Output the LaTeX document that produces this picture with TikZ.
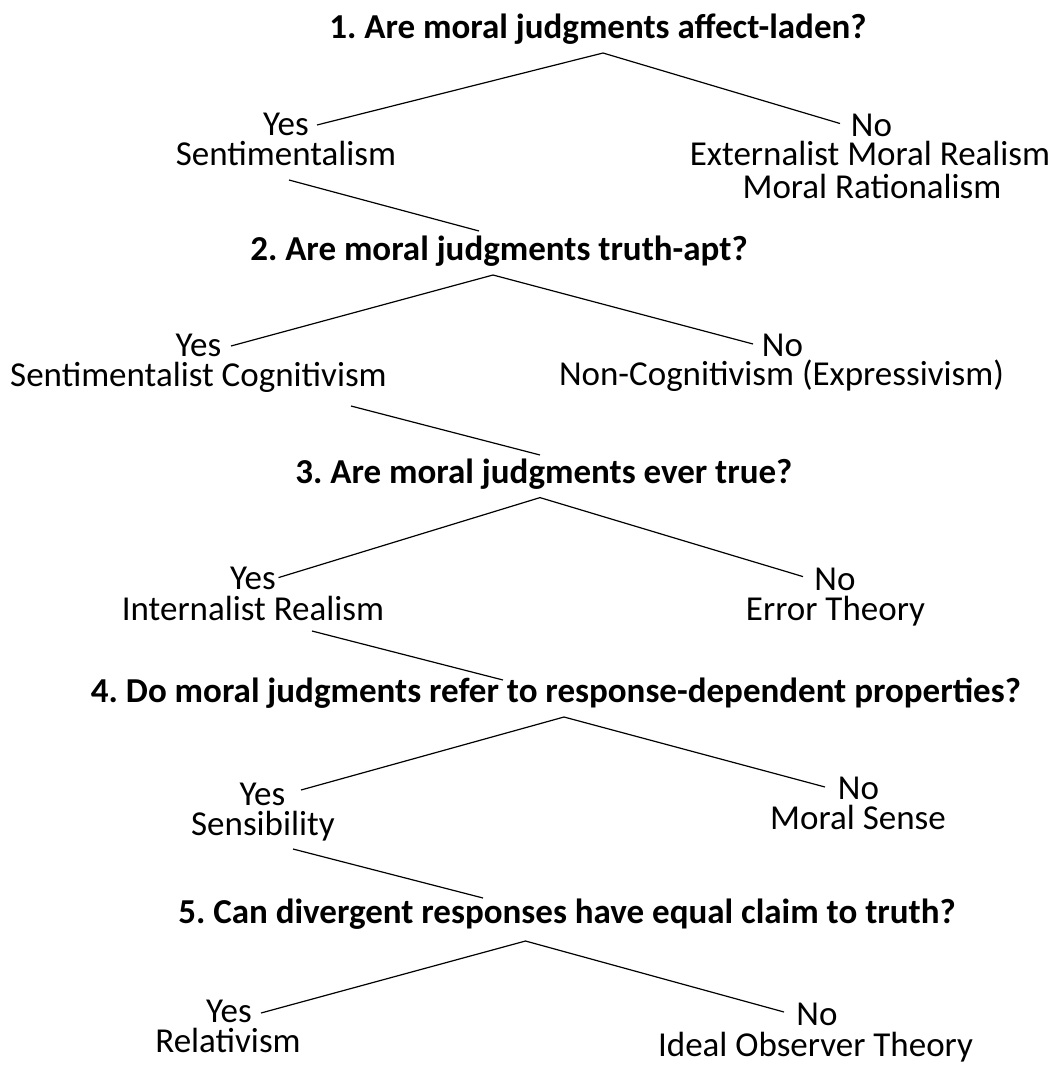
\documentclass[tikz,border=0pt]{standalone}
\usepackage{fontspec}
\setmainfont{Carlito}
\frenchspacing
\begin{document}
\begin{tikzpicture}[x=1pt,y=-1pt,
  q/.style={font=\fontsize{35}{38}\selectfont\bfseries, anchor=base, inner sep=0pt, text height=0.66em, text depth=0.14em},
  t/.style={font=\fontsize{35}{38}\selectfont, anchor=base, inner sep=0pt, text height=0.66em, text depth=0.14em},
  ln/.style={line width=1.2pt, black}]
\useasboundingbox (0,0) rectangle (1051,1068);
% Question 1
\node[q] (q1) at (598,38.5) {1. Are moral judgments affect-laden?};
\node[t] (y1) at (286,135) {Yes};
\node[t] (s1) at (286,165) {Sentimentalism};
\node[t] (n1) at (871.5,136) {No};
\node[t] (e1) at (870,165) {Externalist Moral Realism};
\node[t] (r1) at (872,198) {Moral Rationalism};
\coordinate (a1) at (603,53);
\coordinate (y1e) at (317,125);
\coordinate (n1e) at (840,123.5);
\draw[ln] (y1e) -- (a1) -- (n1e);
\coordinate (d1a) at (289,180);
\coordinate (d1b) at (479,231);
\draw[ln] (d1a) -- (d1b);
% Question 2
\node[q] (q2) at (499,260) {2. Are moral judgments truth-apt?};
\node[t] (y2) at (198.5,356) {Yes};
\node[t] (s2) at (198.5,386) {Sentimentalist Cognitivism};
\node[t] (n2) at (782.5,356) {No};
\node[t] (e2) at (781.5,385) {Non-Cognitivism (Expressivism)};
\coordinate (a2) at (493,275);
\coordinate (y2e) at (231,346);
\coordinate (n2e) at (753,344);
\draw[ln] (y2e) -- (a2) -- (n2e);
\coordinate (d2a) at (351,406);
\coordinate (d2b) at (540,455);
\draw[ln] (d2a) -- (d2b);
% Question 3
\node[q] (q3) at (544,483) {3. Are moral judgments ever true?};
\node[t] (y3) at (253,589) {Yes};
\node[t] (s3) at (253,620.5) {Internalist Realism};
\node[t] (n3) at (835,590) {No};
\node[t] (e3) at (835.5,620.5) {Error Theory};
\coordinate (a3) at (540,497.6);
\coordinate (y3e) at (278.5,577.6);
\coordinate (n3e) at (803,576.6);
\draw[ln] (y3e) -- (a3) -- (n3e);
\coordinate (d3a) at (312,631);
\coordinate (d3b) at (503,680);
\draw[ln] (d3a) -- (d3b);
% Question 4
\node[q] (q4) at (556,702) {4. Do moral judgments refer to response-dependent properties?};
\node[t] (y4) at (262.5,805) {Yes};
\node[t] (s4) at (263,835) {Sensibility};
\node[t] (n4) at (858.5,799) {No};
\node[t] (e4) at (858,829) {Moral Sense};
\coordinate (a4) at (564,717);
\coordinate (y4e) at (301,790);
\coordinate (n4e) at (825,787);
\draw[ln] (y4e) -- (a4) -- (n4e);
\coordinate (d4a) at (293,849);
\coordinate (d4b) at (483,898);
\draw[ln] (d4a) -- (d4b);
% Question 5
\node[q] (q5) at (567,923) {5. Can divergent responses have equal claim to truth?};
\node[t] (y5) at (229,1022) {Yes};
\node[t] (s5) at (228,1052) {Relativism};
\node[t] (n5) at (817,1025.5) {No};
\node[t] (e5) at (815.5,1056) {Ideal Observer Theory};
\coordinate (a5) at (525.5,941);
\coordinate (y5e) at (261,1013);
\coordinate (n5e) at (784,1012);
\draw[ln] (y5e) -- (a5) -- (n5e);
\end{tikzpicture}
\end{document}
